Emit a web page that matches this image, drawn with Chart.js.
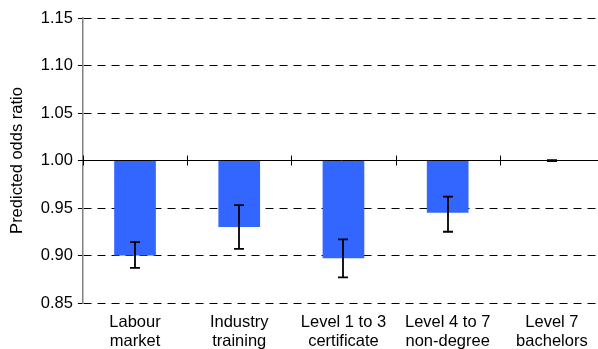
<!DOCTYPE html>
<html>
<head>
<meta charset="utf-8">
<title>Predicted odds ratio by qualification</title>
<script src="https://cdn.jsdelivr.net/npm/chart.js@4/dist/chart.umd.min.js"></script>
<style>
  html, body { margin: 0; padding: 0; background: #fff; overflow: hidden; }
  #wrap { position: relative; width: 604px; height: 361px; }
</style>
</head>
<body>
<div id="wrap"><canvas id="chart"></canvas></div>
<script>
// Categories (multi-line axis labels)
const categories = [
  ["Labour", "market"],
  ["Industry", "training"],
  ["Level 1 to 3", "certificate"],
  ["Level 4 to 7", "non-degree"],
  ["Level 7", "bachelors"]
];
// Predicted odds ratios and their confidence limits
const oddsRatio = [0.900, 0.930, 0.897, 0.945, 1.000];
const ciLower   = [0.887, 0.907, 0.877, 0.925, 0.9995];
const ciUpper   = [0.914, 0.953, 0.917, 0.962, 1.0005];
// Reference value the bars hang from
const baseline = 1.00;
// Value axis
const yMin = 0.85, yMax = 1.15, yStep = 0.05;

const FONT = "'Liberation Sans', Arial, sans-serif";
const FS = 16.5;

// Solid reference line at the baseline, with tick marks on category boundaries
const baselinePlugin = {
  id: 'baselineLine',
  afterDatasetsDraw(chart) {
    const { ctx, chartArea, scales: { x, y } } = chart;
    const py = Math.round(y.getPixelForValue(baseline)) + 0.5;
    ctx.save();
    ctx.strokeStyle = '#000';
    ctx.lineWidth = 1;
    ctx.beginPath();
    ctx.moveTo(chartArea.left - 4, py);
    ctx.lineTo(chartArea.right, py);
    for (let i = -0.5; i <= categories.length - 0.5; i += 1) {
      const px = Math.round(x.getPixelForValue(i)) + 0.5;
      ctx.moveTo(px, py - 5);
      ctx.lineTo(px, py + 5);
    }
    ctx.stroke();
    ctx.restore();
  }
};

// Confidence-interval whiskers
const errorBarPlugin = {
  id: 'errorBars',
  afterDatasetsDraw(chart) {
    const { ctx, scales: { x, y } } = chart;
    ctx.save();
    ctx.strokeStyle = '#000';
    ctx.lineWidth = 1.8;
    ctx.lineCap = 'butt';
    const cap = 5;
    for (let i = 0; i < categories.length; i++) {
      const px = Math.round(x.getPixelForValue(i));
      const yLo = y.getPixelForValue(ciLower[i]);
      const yHi = y.getPixelForValue(ciUpper[i]);
      ctx.beginPath();
      ctx.moveTo(px, yHi);
      ctx.lineTo(px, yLo);
      ctx.moveTo(px - cap, yHi);
      ctx.lineTo(px + cap, yHi);
      ctx.moveTo(px - cap, yLo);
      ctx.lineTo(px + cap, yLo);
      ctx.stroke();
    }
    ctx.restore();
  }
};

new Chart(document.getElementById('chart'), {
  type: 'bar',
  data: {
    labels: categories,
    datasets: [{
      label: 'Predicted odds ratio',
      data: oddsRatio.map(v => [baseline, v]),
      backgroundColor: '#3366FF',
      borderWidth: 0,
      barPercentage: 0.40,
      categoryPercentage: 1.0
    }]
  },
  options: {
    responsive: true,
    maintainAspectRatio: false,
    animation: false,
    layout: { padding: { top: 18, right: 0, bottom: 0, left: 8 } },
    plugins: {
      legend: { display: false },
      tooltip: { enabled: false }
    },
    scales: {
      x: {
        type: 'category',
        grid: { display: false, drawTicks: false },
        border: { display: false },
        ticks: {
          color: '#000',
          font: { family: FONT, size: FS, lineHeight: 19 / FS },
          padding: 10,
          maxRotation: 0,
          autoSkip: false
        }
      },
      y: {
        min: yMin,
        max: yMax,
        grid: {
          color: ctx => (ctx.tick && Math.abs(ctx.tick.value - baseline) < 1e-9) ? 'rgba(0,0,0,0)' : '#000',
          lineWidth: 1,
          tickColor: '#000',
          tickLength: 5,
          drawTicks: true
        },
        border: { display: true, color: '#808080', width: 1.5, dash: [8, 6] },
        ticks: {
          stepSize: yStep,
          color: '#000',
          padding: 5,
          font: { family: FONT, size: FS },
          callback: v => Number(v).toFixed(2)
        },
        title: {
          display: true,
          text: 'Predicted odds ratio',
          color: '#000',
          font: { family: FONT, size: FS },
          padding: { top: 0, bottom: 8 }
        }
      }
    }
  },
  plugins: [baselinePlugin, errorBarPlugin]
});
</script>
</body>
</html>
